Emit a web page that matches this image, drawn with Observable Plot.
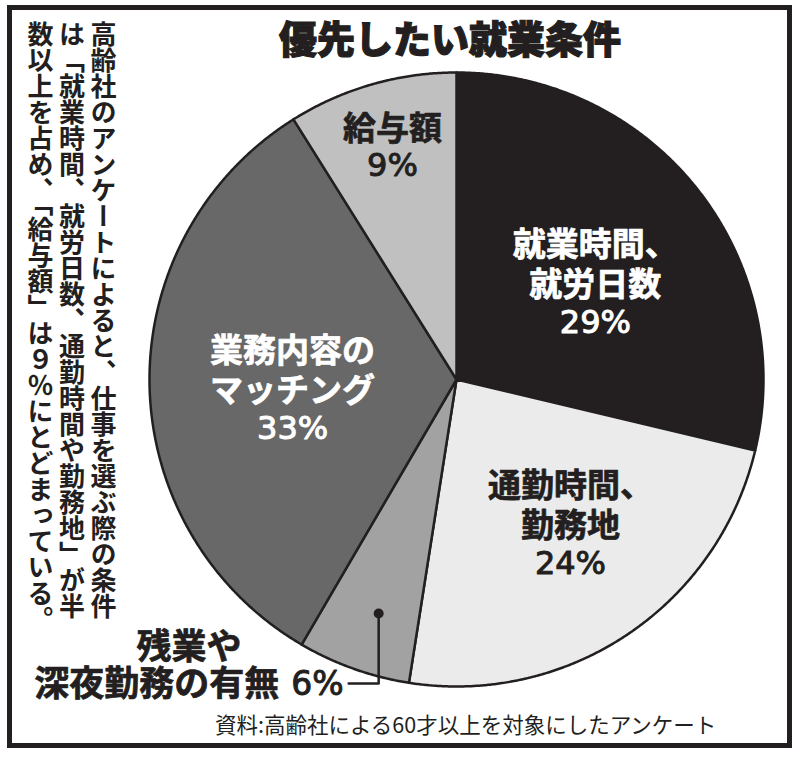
<!DOCTYPE html>
<html lang="ja">
<head>
<meta charset="utf-8">
<script src="https://cdn.jsdelivr.net/npm/d3@7"></script>
<script src="https://cdn.jsdelivr.net/npm/@observablehq/plot@0.6"></script>
<style>
  body { margin: 0; background: #fff; }
  #wrap { position: relative; width: 800px; height: 757px; overflow: hidden;
          font-family: "Noto Sans CJK JP", sans-serif; color: #231f20; background: #fff; }
  #chart { position: absolute; left: 0; top: 0; }
  #frame { position: absolute; left: 7px; top: 5px; width: 785px; height: 743px;
           border: 5px solid #231f20; box-sizing: border-box; pointer-events: none; }
  #title { position: absolute; left: 200px; width: 500px; top: 18px; text-align: center;
           font-size: 38px; line-height: 38px; font-weight: 900; white-space: nowrap;
           -webkit-text-stroke: 1.2px #231f20; }
  #note { position: absolute; top: 21px; right: 681px; writing-mode: vertical-rl;
          font-size: 26px; line-height: 31.5px; font-weight: 700; white-space: nowrap; }
  #caption { position: absolute; left: 215px; top: 713px; font-size: 21.5px; line-height: 21px;
             font-weight: 400; white-space: nowrap; }
</style>
</head>
<body>
<div id="wrap">
  <div id="chart"></div>
  <div id="frame"></div>
  <div id="title"></div>
  <div id="note"></div>
  <div id="caption"></div>
</div>
<script>
// ---- data ----
const title = "優先したい就業条件";
const categories = ["就業時間、就労日数", "通勤時間、勤務地", "残業や深夜勤務の有無", "業務内容のマッチング", "給与額"];
const labelLines = [["就業時間、", "就労日数"], ["通勤時間、", "勤務地"], ["残業や", "深夜勤務の有無"], ["業務内容の", "マッチング"], ["給与額"]];
const values = [29, 24, 6, 33, 9];
const noteLines = [
  "高齢社のアンケートによると、仕事を選ぶ際の条件",
  "は「就業時間、就労日数、通勤時間や勤務地」が半",
  "数以上を占め、「給与額」は９％にとどまっている。"
];
const caption = "資料:高齢社による60才以上を対象にしたアンケート";

// ---- style / layout ----
const fills = ["#231f20", "#ebebeb", "#a2a2a2", "#686868", "#c0c0c0"];
const textFills = ["#ffffff", "#231f20", "#231f20", "#ffffff", "#231f20"];
const labelR = [0.549, 0.602, 0.803, 0.535, 0.784];
const labelDA = [3.8, -4.2, -1.2, -2.8, 0.6]; // degrees offset from slice mid-angle
const outsideIndex = 2;
const W = 800, H = 757, R = 307, cx = 456, cy = 379;
const nameFont = {family: "Noto Sans CJK JP", size: 33, weight: 700, stroke: 0.7};
const pctFont = {family: "DejaVu Sans", size: 32, weight: 400, stroke: 1};
const lineStep = 40, pctStep = 37;

document.getElementById("title").textContent = title;
document.getElementById("note").innerHTML = noteLines.join("<br>");
document.getElementById("caption").textContent = caption;

const arcs = d3.pie().sort(null).value(d => d)(values);

// slice polygons in unit-circle data coords (y up)
const slicePts = [];
arcs.forEach((a, i) => {
  const n = Math.max(2, Math.ceil((a.endAngle - a.startAngle) / 0.005));
  slicePts.push({cat: categories[i], x: 0, y: 0});
  for (let k = 0; k <= n; k++) {
    const t = a.startAngle + (a.endAngle - a.startAngle) * k / n;
    slicePts.push({cat: categories[i], x: Math.sin(t), y: Math.cos(t)});
  }
  slicePts.push({cat: categories[i], x: 0, y: 0});
});

const toData = (px, py) => ({x: (px - cx) / R, y: (cy - py) / R});

const marks = [
  Plot.line(slicePts, {x: "x", y: "y", z: "cat", fill: "cat", stroke: "#231f20",
    strokeWidth: 2.5, strokeLinejoin: "round", curve: "linear"})
];

const canvas = document.createElement("canvas");
const ctx = canvas.getContext("2d");
function measure(text, f) {
  ctx.font = `${f.weight} ${f.size}px "${f.family}"`;
  return ctx.measureText(text).width;
}
function textOpts(f, color, anchor) {
  return {x: "x", y: "y", text: "text", fill: color, stroke: color, strokeWidth: f.stroke,
    paintOrder: "stroke", strokeLinejoin: "round",
    fontFamily: f.family, fontSize: f.size, fontWeight: f.weight,
    textAnchor: anchor, lineAnchor: "middle"};
}

arcs.forEach((a, i) => {
  const mid = (a.startAngle + a.endAngle) / 2 + labelDA[i] * Math.PI / 180;
  const ax = cx + labelR[i] * R * Math.sin(mid);
  const ay = cy - labelR[i] * R * Math.cos(mid);
  const pct = values[i] + "%";
  if (i !== outsideIndex) {
    const names = labelLines[i];
    const n = names.length;
    const span = (n - 1) * lineStep + pctStep;
    const first = ay - span / 2;
    const nameRows = names.map((t, k) => ({text: t, ...toData(ax, first + k * lineStep)}));
    const pctRows = [{text: pct, ...toData(ax, first + (n - 1) * lineStep + pctStep)}];
    marks.push(Plot.text(nameRows, textOpts(nameFont, textFills[i], "middle")));
    marks.push(Plot.text(pctRows, textOpts(pctFont, textFills[i], "middle")));
  } else {
    // leader from a dot inside the slice, down and to the left
    const leaderY = 683, leaderLen = 30;
    const dot = toData(ax, ay);
    const bend = toData(ax, leaderY);
    const end = toData(ax - leaderLen, leaderY);
    marks.push(Plot.line([dot, bend, end], {x: "x", y: "y", stroke: "#231f20", strokeWidth: 2.5}));
    marks.push(Plot.dot([dot], {x: "x", y: "y", r: 5, fill: "#231f20"}));
    const pf = {...pctFont, size: 33};
    const nf = {...nameFont, size: 35};
    const textEnd = ax - leaderLen - 5;
    const pctW = measure(pct, pf);
    const gap = 12;
    const nameW = measure(labelLines[i][1], nf);
    const totalW = nameW + gap + pctW;
    const lineY = leaderY + 1;
    marks.push(Plot.text([{text: pct, ...toData(textEnd, lineY)}], textOpts(pf, "#231f20", "end")));
    marks.push(Plot.text([{text: labelLines[i][1], ...toData(textEnd - pctW - gap, lineY)}],
      textOpts(nf, "#231f20", "end")));
    marks.push(Plot.text([{text: labelLines[i][0], ...toData(textEnd - totalW / 2, lineY - 37)}],
      textOpts(nf, "#231f20", "middle")));
  }
});

const chart = Plot.plot({
  width: W, height: H,
  marginLeft: cx - R, marginRight: W - (cx + R),
  marginTop: cy - R, marginBottom: H - (cy + R),
  x: {domain: [-1, 1], axis: null},
  y: {domain: [-1, 1], axis: null},
  color: {domain: categories, range: fills},
  style: {background: "transparent", overflow: "visible"},
  marks
});
document.getElementById("chart").appendChild(chart);
</script>
</body>
</html>
